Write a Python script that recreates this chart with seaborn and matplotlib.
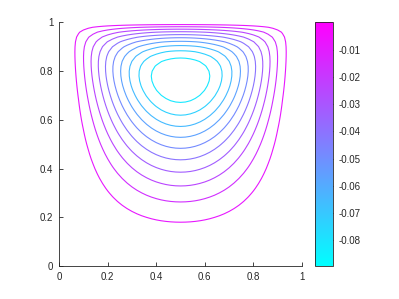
import numpy as np
import matplotlib
matplotlib.use("Agg")
import matplotlib.pyplot as plt
import matplotlib as mpl
import seaborn as sns

# ---- values ----
psi_min = -0.0895          # bottom of the colour bar
psi_max = 0.0              # top of the colour bar
n_levels = 10              # number of contour lines
x_ticks = [0, 0.2, 0.4, 0.6, 0.8, 1]
y_ticks = [0, 0.2, 0.4, 0.6, 0.8, 1]
cbar_ticks = [-0.08, -0.07, -0.06, -0.05, -0.04, -0.03, -0.02, -0.01]
n_grid = 51

# ---- stream function of a lid-driven cavity (Stokes flow, parabolic lid) ----
h = 1.0 / (n_grid - 1)
n = n_grid - 2
xg = np.linspace(0, 1, n_grid)
yg = np.linspace(0, 1, n_grid)
lid_speed = 4.0 * xg[1:-1] * (1.0 - xg[1:-1])
I = np.eye(n)
D2 = (np.diag(-2.0 * np.ones(n)) + np.diag(np.ones(n - 1), 1)
      + np.diag(np.ones(n - 1), -1)) / h**2
D4 = (np.diag(6.0 * np.ones(n)) + np.diag(-4.0 * np.ones(n - 1), 1)
      + np.diag(-4.0 * np.ones(n - 1), -1) + np.diag(np.ones(n - 2), 2)
      + np.diag(np.ones(n - 2), -2))
D4[0, 0] = 7.0
D4[-1, -1] = 7.0
D4 /= h**4
A = np.kron(I, D4) + np.kron(D4, I) + 2.0 * np.kron(D2, D2)
rhs = np.zeros((n, n))
rhs[-1, :] = -2.0 * h * lid_speed / h**4
sol = np.linalg.solve(A, rhs.ravel()).reshape(n, n)
psi = np.zeros((n_grid, n_grid))
psi[1:-1, 1:-1] = sol
psi = psi * (psi_min / psi.min())

levels = np.linspace(psi_min, psi_max, n_levels + 2)[1:-1]

# ---- plot ----
sns.set_theme(style="white")
plt.rcParams['font.family'] = ['Liberation Sans', 'DejaVu Sans']
axis_color = '#262626'

fig = plt.figure(figsize=(3.99, 2.99), dpi=100)
ax = fig.add_axes([0.148, 0.110, 0.609, 0.815])
norm = mpl.colors.Normalize(vmin=psi_min, vmax=psi_max)
ax.contour(xg, yg, psi, levels=levels, cmap='cool', norm=norm, linewidths=0.8)
ax.set_xlim(0, 1)
ax.set_ylim(0, 1)
ax.set_xticks(x_ticks)
ax.set_yticks(y_ticks)
ax.set_xticklabels([f"{t:g}" for t in x_ticks])
ax.set_yticklabels([f"{t:g}" for t in y_ticks])
for s in ['top', 'right']:
    ax.spines[s].set_visible(False)
for s in ['left', 'bottom']:
    ax.spines[s].set_color(axis_color)
    ax.spines[s].set_linewidth(0.6)
ax.tick_params(direction='in', length=3, width=0.6, colors=axis_color,
               labelsize=7, pad=4, left=True, bottom=True)

cax = fig.add_axes([0.789, 0.110, 0.046, 0.815])
sm = mpl.cm.ScalarMappable(norm=norm, cmap='cool')
cb = fig.colorbar(sm, cax=cax)
cb.set_ticks(cbar_ticks)
cb.set_ticklabels([f"{t:.2f}" for t in cbar_ticks])
cb.outline.set_edgecolor(axis_color)
cb.outline.set_linewidth(0.6)
cax.tick_params(direction='in', length=3, width=0.6, colors=axis_color,
                labelsize=7, pad=4, right=True)

fig.savefig("out.png", dpi=100)
